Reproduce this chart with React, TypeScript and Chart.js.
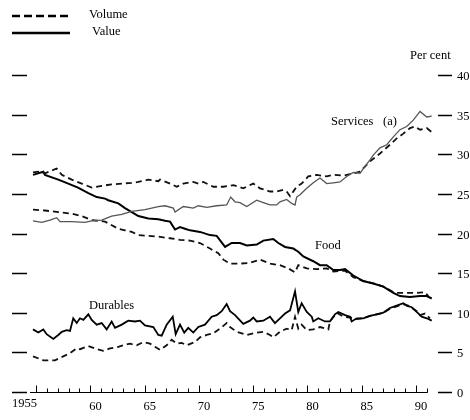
import React, { useEffect, useRef } from "react";
import { Chart, registerables } from "chart.js";

Chart.register(...registerables);

// ---- Data (shares of consumer spending, per cent) ----
const servicesValueYears = [1955.0, 1955.8, 1956.57, 1957.18, 1957.49, 1958.57, 1959.79, 1960.41, 1961.33, 1962.25, 1963.18, 1964.1, 1965.32, 1966.55, 1967.17, 1967.93, 1968.09, 1968.85, 1969.77, 1970.24, 1971.01, 1971.93, 1972.85, 1973.22, 1973.62, 1974.08, 1974.7, 1975.62, 1976.23, 1976.84, 1977.46, 1977.76, 1978.38, 1978.84, 1979.15, 1979.3, 1979.61, 1980.23, 1980.83, 1981.45, 1982.07, 1982.68, 1983.29, 1983.91, 1984.52, 1985.14, 1985.44, 1986.06, 1986.36, 1986.98, 1987.6, 1988.21, 1988.82, 1989.44, 1990.05, 1990.67, 1991.29, 1991.75];
const servicesValue = [21.6, 21.4, 21.7, 22.0, 21.5, 21.5, 21.4, 21.6, 21.7, 22.2, 22.4, 22.8, 23.0, 23.4, 23.5, 23.2, 22.7, 23.4, 23.2, 23.5, 23.3, 23.5, 23.6, 24.6, 24.0, 23.9, 23.4, 24.2, 23.9, 23.6, 23.6, 24.0, 24.3, 23.8, 23.6, 24.6, 24.9, 25.7, 26.4, 27.0, 26.3, 26.4, 26.5, 27.2, 27.7, 27.6, 28.2, 29.3, 29.9, 30.8, 31.2, 32.2, 33.1, 33.5, 34.3, 35.4, 34.7, 34.8];

const servicesVolumeYears = [1955.0, 1955.49, 1956.1, 1957.18, 1957.65, 1958.57, 1959.49, 1960.41, 1961.33, 1962.25, 1963.18, 1964.1, 1964.71, 1965.63, 1966.55, 1966.71, 1967.63, 1968.24, 1968.85, 1969.77, 1970.24, 1970.7, 1971.62, 1972.54, 1973.46, 1974.38, 1975.3, 1975.92, 1976.84, 1977.46, 1978.07, 1978.38, 1978.69, 1979.3, 1979.76, 1980.37, 1981.15, 1982.07, 1982.68, 1983.6, 1984.22, 1985.14, 1986.06, 1986.98, 1987.9, 1988.52, 1989.13, 1989.75, 1990.21, 1990.67, 1991.29, 1991.75];
const servicesVolume = [27.7, 27.8, 27.6, 28.2, 27.4, 26.8, 26.3, 25.8, 26.0, 26.2, 26.3, 26.4, 26.5, 26.8, 26.6, 26.8, 26.3, 25.9, 26.3, 26.5, 26.3, 26.5, 25.9, 25.9, 26.1, 25.7, 26.3, 25.7, 25.3, 25.3, 25.5, 25.3, 24.7, 25.9, 26.3, 27.2, 27.4, 27.2, 27.4, 27.3, 27.5, 27.8, 29.1, 30.1, 31.2, 32.0, 32.6, 33.3, 33.5, 33.1, 33.3, 32.8];

const foodValueYears = [1955.0, 1955.95, 1956.1, 1957.33, 1958.25, 1959.15, 1960.1, 1960.87, 1961.64, 1961.94, 1962.86, 1963.48, 1964.1, 1964.71, 1965.63, 1966.55, 1967.17, 1967.63, 1968.09, 1968.55, 1969.0, 1969.47, 1970.39, 1971.31, 1971.93, 1972.7, 1973.31, 1974.08, 1974.7, 1975.62, 1976.23, 1977.15, 1977.61, 1978.23, 1978.99, 1979.45, 1979.91, 1980.83, 1981.45, 1982.07, 1982.68, 1983.29, 1983.76, 1984.52, 1985.44, 1986.36, 1987.29, 1988.21, 1988.82, 1989.75, 1990.67, 1991.29, 1991.75];
const foodValue = [27.4, 27.8, 27.4, 26.8, 26.3, 25.8, 25.1, 24.6, 24.4, 24.2, 23.8, 23.2, 22.7, 22.2, 21.9, 21.8, 21.6, 21.5, 20.5, 20.8, 20.6, 20.4, 20.2, 19.8, 19.7, 18.3, 18.8, 18.8, 18.5, 18.6, 19.1, 19.3, 18.8, 18.3, 18.1, 17.7, 17.1, 16.5, 16.0, 16.0, 15.4, 15.4, 15.5, 14.7, 14.0, 13.7, 13.3, 12.5, 12.1, 12.0, 12.1, 12.1, 11.8];

const foodVolumeYears = [1955.0, 1956.1, 1957.33, 1958.57, 1959.49, 1960.41, 1961.64, 1962.86, 1963.48, 1964.1, 1964.71, 1965.63, 1966.55, 1967.63, 1968.55, 1969.47, 1970.39, 1971.31, 1972.08, 1972.54, 1973.16, 1974.08, 1975.0, 1975.92, 1976.84, 1977.76, 1978.53, 1979.15, 1979.45, 1980.23, 1981.15, 1982.07, 1982.68, 1983.76, 1984.52, 1985.44, 1986.36, 1987.29, 1988.21, 1988.52, 1989.44, 1990.36, 1991.13, 1991.43];
const foodVolume = [23.0, 22.9, 22.7, 22.5, 22.2, 21.7, 21.5, 20.6, 20.4, 20.2, 19.8, 19.7, 19.6, 19.4, 19.2, 19.1, 18.8, 18.1, 17.5, 16.7, 16.2, 16.2, 16.3, 16.7, 16.2, 16.0, 15.6, 15.1, 16.0, 15.6, 15.5, 15.6, 15.2, 15.3, 14.5, 14.0, 13.7, 13.3, 12.6, 12.5, 12.5, 12.5, 12.6, 12.1];

const durablesValueYears = [1955.0, 1955.49, 1955.95, 1956.26, 1956.87, 1957.33, 1957.65, 1958.1, 1958.41, 1958.71, 1959.03, 1959.33, 1959.64, 1960.1, 1960.41, 1960.87, 1961.33, 1961.79, 1962.25, 1962.56, 1963.18, 1963.78, 1964.4, 1964.86, 1965.32, 1966.09, 1966.55, 1966.86, 1967.32, 1967.88, 1968.15, 1968.55, 1968.94, 1969.31, 1969.77, 1970.24, 1970.85, 1971.47, 1971.93, 1972.39, 1972.85, 1973.16, 1973.62, 1974.38, 1975.0, 1975.3, 1975.62, 1976.23, 1976.84, 1977.3, 1977.76, 1978.23, 1978.69, 1979.15, 1979.45, 1979.76, 1980.23, 1980.69, 1980.83, 1981.29, 1981.91, 1982.37, 1982.83, 1983.14, 1983.76, 1984.22, 1984.37, 1984.83, 1985.44, 1986.06, 1986.68, 1987.29, 1987.9, 1988.52, 1989.13, 1989.44, 1989.9, 1990.36, 1990.82, 1991.29, 1991.75];
const durablesValue = [7.9, 7.5, 7.9, 7.3, 6.7, 7.2, 7.6, 7.8, 7.7, 9.3, 8.7, 9.3, 9.1, 9.8, 9.1, 8.5, 8.7, 7.9, 8.9, 8.1, 8.5, 9.0, 8.9, 9.0, 8.4, 8.2, 7.2, 7.1, 8.5, 9.5, 7.3, 8.5, 7.5, 8.1, 7.5, 8.2, 8.5, 9.5, 9.7, 10.2, 11.1, 10.2, 9.7, 8.6, 9.0, 9.4, 8.9, 9.0, 9.5, 8.7, 9.3, 9.9, 10.3, 12.7, 10.1, 11.2, 10.1, 9.5, 8.9, 9.3, 8.9, 8.9, 9.8, 10.1, 9.7, 9.5, 8.9, 9.3, 9.3, 9.6, 9.8, 10.0, 10.6, 10.9, 11.2, 10.9, 10.7, 10.1, 9.5, 9.3, 9.0];

const durablesVolumeYears = [1955.0, 1955.95, 1957.03, 1957.79, 1958.41, 1959.03, 1959.33, 1960.1, 1960.87, 1961.48, 1962.1, 1962.86, 1963.32, 1963.94, 1964.56, 1965.17, 1965.78, 1966.24, 1966.71, 1967.32, 1967.78, 1968.24, 1968.7, 1969.17, 1969.93, 1970.39, 1971.01, 1971.62, 1972.24, 1972.85, 1973.16, 1973.77, 1974.7, 1975.62, 1976.23, 1976.84, 1977.15, 1977.76, 1978.38, 1978.84, 1979.15, 1979.45, 1979.76, 1980.23, 1980.83, 1981.45, 1982.22, 1982.37, 1982.99, 1983.6, 1984.22, 1984.83, 1985.44, 1986.06, 1986.68, 1987.29, 1987.9, 1988.52, 1989.13, 1989.75, 1990.36, 1990.67, 1991.13, 1991.59];
const durablesVolume = [4.5, 4.0, 4.0, 4.5, 4.9, 5.5, 5.4, 5.8, 5.4, 5.2, 5.5, 5.7, 5.9, 6.1, 5.9, 6.3, 6.1, 5.7, 5.3, 5.9, 6.6, 6.1, 6.2, 5.9, 6.3, 6.9, 7.2, 7.4, 8.0, 8.7, 8.2, 7.6, 7.2, 7.5, 7.6, 7.2, 6.9, 7.6, 8.0, 7.8, 9.5, 8.0, 8.5, 7.8, 7.9, 8.2, 7.9, 8.9, 10.0, 9.5, 9.4, 9.2, 9.3, 9.6, 9.8, 10.0, 10.5, 10.8, 11.1, 10.8, 10.2, 9.7, 9.9, 9.3];

// ---- Axis tick labels ----
const yTicks = [0, 5, 10, 15, 20, 25, 30, 35, 40];
const xMajorYears = [1955, 1960, 1965, 1970, 1975, 1980, 1985, 1990];
const xTickLabels = ["1955", "60", "65", "70", "75", "80", "85", "90"];
const xFirstYear = 1955;
const xLastYear = 1991;

const legendLabels = ["Volume", "Value"];
const seriesLabels = ["Services", "(a)", "Food", "Durables"];

const FONT = '"Liberation Serif", "DejaVu Serif", serif';

function pts(xs: number[], ys: number[]) {
  return xs.map((x, i) => ({ x, y: ys[i] }));
}

export default function App() {
  const ref = useRef<HTMLCanvasElement | null>(null);

  useEffect(() => {
    if (!ref.current) return;
    const TICK_OFF = 0.28;

    const decor = {
      id: "decor",
      afterDraw(chart: any) {
        const ctx = chart.ctx as CanvasRenderingContext2D;
        const xs = chart.scales.x;
        const ys = chart.scales.y;
        ctx.save();
        ctx.strokeStyle = "#000";
        ctx.fillStyle = "#000";
        ctx.setLineDash([]);

        // left and right tick dashes + right labels
        ctx.lineWidth = 1.5;
        ctx.font = `12.5px ${FONT}`;
        ctx.textBaseline = "middle";
        ctx.textAlign = "left";
        yTicks.forEach((v) => {
          const py = Math.round(ys.getPixelForValue(v)) + 0.5;
          ctx.beginPath();
          ctx.moveTo(12, py);
          ctx.lineTo(27, py);
          ctx.moveTo(438, py);
          ctx.lineTo(452, py);
          ctx.stroke();
          ctx.fillText(String(v), 457, py + 1);
        });

        // x axis line and ticks
        const y0 = Math.round(ys.getPixelForValue(0)) + 0.5;
        ctx.lineWidth = 1;
        ctx.beginPath();
        ctx.moveTo(30, y0);
        ctx.lineTo(xs.getPixelForValue(xLastYear + TICK_OFF) + 1, y0);
        ctx.stroke();
        for (let yr = xFirstYear; yr <= xLastYear; yr++) {
          const px = Math.round(xs.getPixelForValue(yr + TICK_OFF)) + 0.5;
          const major = xMajorYears.includes(yr);
          ctx.beginPath();
          ctx.moveTo(px, y0);
          ctx.lineTo(px, y0 - (major ? 7 : 4));
          ctx.stroke();
        }
        xMajorYears.forEach((yr, i) => {
          const px = xs.getPixelForValue(yr + TICK_OFF);
          if (i === 0) {
            ctx.textAlign = "right";
            ctx.fillText(xTickLabels[i], px + 1, 404);
          } else {
            ctx.textAlign = "left";
            ctx.fillText(xTickLabels[i], px - 1, 407);
          }
        });

        // Per cent
        ctx.textAlign = "left";
        ctx.fillText("Per cent", 410, 56);

        // series annotations
        ctx.fillText(seriesLabels[0], 331, 122);
        ctx.fillText(seriesLabels[1], 383, 122);
        ctx.fillText(seriesLabels[2], 315, 246);
        ctx.fillText(seriesLabels[3], 89, 306);

        // legend
        ctx.lineWidth = 2.5;
        ctx.setLineDash([8, 4]);
        ctx.beginPath();
        ctx.moveTo(12, 16);
        ctx.lineTo(72, 16);
        ctx.stroke();
        ctx.setLineDash([]);
        ctx.beginPath();
        ctx.moveTo(12, 33);
        ctx.lineTo(70, 33);
        ctx.stroke();
        ctx.fillText(legendLabels[0], 89, 15);
        ctx.fillText(legendLabels[1], 92, 32);
        ctx.restore();
      },
    };

    const pxPerYear = 10.85;
    const x0px = 33;
    const pxPerUnit = 7.925;
    const zeroPx = 392;
    const W = 470;
    const H = 420;

    const chart = new Chart(ref.current, {
      type: "line",
      data: {
        datasets: [
          { label: "Services value", data: pts(servicesValueYears, servicesValue), borderColor: "#555", borderWidth: 1.3 },
          { label: "Services volume", data: pts(servicesVolumeYears, servicesVolume), borderColor: "#111", borderWidth: 1.8, borderDash: [6, 4] },
          { label: "Food value", data: pts(foodValueYears, foodValue), borderColor: "#000", borderWidth: 2 },
          { label: "Food volume", data: pts(foodVolumeYears, foodVolume), borderColor: "#111", borderWidth: 1.8, borderDash: [6, 4] },
          { label: "Durables value", data: pts(durablesValueYears, durablesValue), borderColor: "#000", borderWidth: 1.8 },
          { label: "Durables volume", data: pts(durablesVolumeYears, durablesVolume), borderColor: "#111", borderWidth: 1.8, borderDash: [6, 4] },
        ] as any,
      },
      options: {
        animation: false,
        responsive: false,
        maintainAspectRatio: false,
        layout: { padding: 0 },
        elements: { point: { radius: 0 }, line: { tension: 0, fill: false } },
        plugins: { legend: { display: false }, tooltip: { enabled: false }, title: { display: false } },
        scales: {
          x: {
            type: "linear",
            display: false,
            min: xFirstYear - x0px / pxPerYear,
            max: xFirstYear + (W - x0px) / pxPerYear,
          },
          y: {
            type: "linear",
            display: false,
            min: -(H - zeroPx) / pxPerUnit,
            max: zeroPx / pxPerUnit,
          },
        },
      },
      plugins: [decor],
    });
    return () => chart.destroy();
  }, []);

  return (
    <div style={{ position: "absolute", left: 0, top: 0, width: 470, height: 420, background: "#fff" }}>
      <canvas ref={ref} width={470} height={420} style={{ display: "block", width: 470, height: 420 }} />
    </div>
  );
}
